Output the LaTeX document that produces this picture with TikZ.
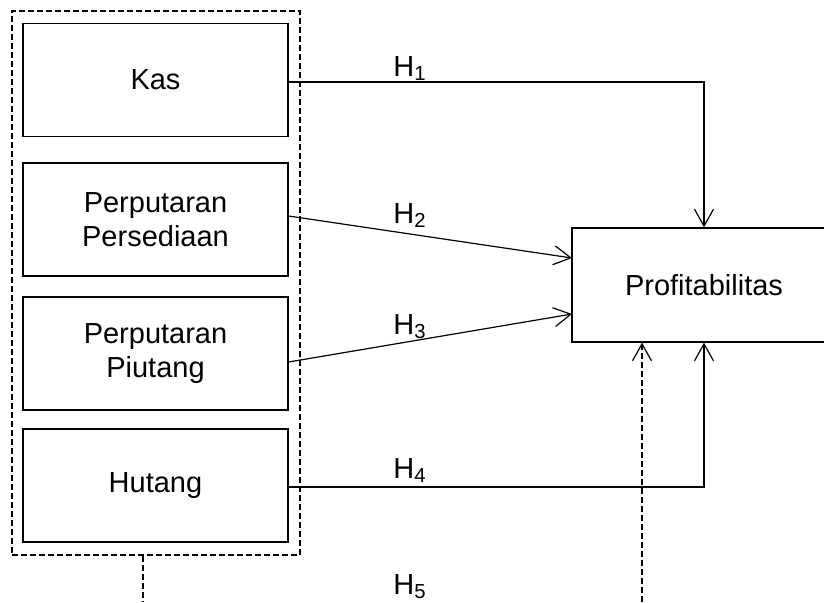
\documentclass[tikz,border=0pt]{standalone}
\usepackage{fontspec}
\setmainfont{Liberation Sans}
\usetikzlibrary{arrows.meta}
\begin{document}
\begin{tikzpicture}[x=0.5pt,y=-0.5pt,
  box/.style={draw, line width=0.6pt, minimum width=132.5pt, minimum height=56.5pt,
    align=center, font=\fontsize{14.5}{17}\selectfont, inner sep=0pt},
  link/.style={line width=0.6pt, -{Straight Barb[length=8.5pt,width=9.5pt]}},
  dsh/.style={line width=0.6pt, dash pattern=on 3pt off 1.5pt},
  hlab/.style={font=\fontsize{14.5}{17}\selectfont, inner sep=0pt, anchor=base west}]
\useasboundingbox (0,0) rectangle (824,602);
% group
\node[dsh, draw, minimum width=144pt, minimum height=272pt, inner sep=0pt] (group) at (156,283) {};
% boxes
\node[box] (kas) at (155.5,80) {Kas};
\node[box] (pers) at (155.5,219.5) {Perputaran\\Persediaan};
\node[box] (piut) at (155.5,353.5) {Perputaran\\Piutang};
\node[box] (hut) at (155.5,485.5) {Hutang};
\node[box, minimum width=132pt, minimum height=57pt] (prof) at (704,285) {Profitabilitas};
% anchor points
\coordinate (k1) at (288,82);
\coordinate (s2) at (288,216);
\coordinate (s3) at (288,362);
\coordinate (s4) at (288,487);
\coordinate (p2) at (572,258);
\coordinate (p3) at (572,314);
\coordinate (d5) at (642,602);
\coordinate (g5) at (143,602);
% connectors
\draw[link] (k1 -| kas.east) -| (prof.north);
\draw[link] (s2 -| pers.east) -- (p2);
\draw[link] (s3 -| piut.east) -- (p3);
\draw[link] (s4 -| hut.east) -| (prof.south);
\draw[link, dash pattern=on 3pt off 1.5pt] (d5) -- (d5 |- prof.south);
\draw[dsh] (g5 |- group.south) -- (g5);
% labels
\node[hlab] (h1) at (393,76) {H\textsubscript{1}};
\node[hlab] (h2) at (393,223) {H\textsubscript{2}};
\node[hlab] (h3) at (393,334) {H\textsubscript{3}};
\node[hlab] (h4) at (393,478) {H\textsubscript{4}};
\node[hlab] (h5) at (393,594) {H\textsubscript{5}};
\end{tikzpicture}
\end{document}
